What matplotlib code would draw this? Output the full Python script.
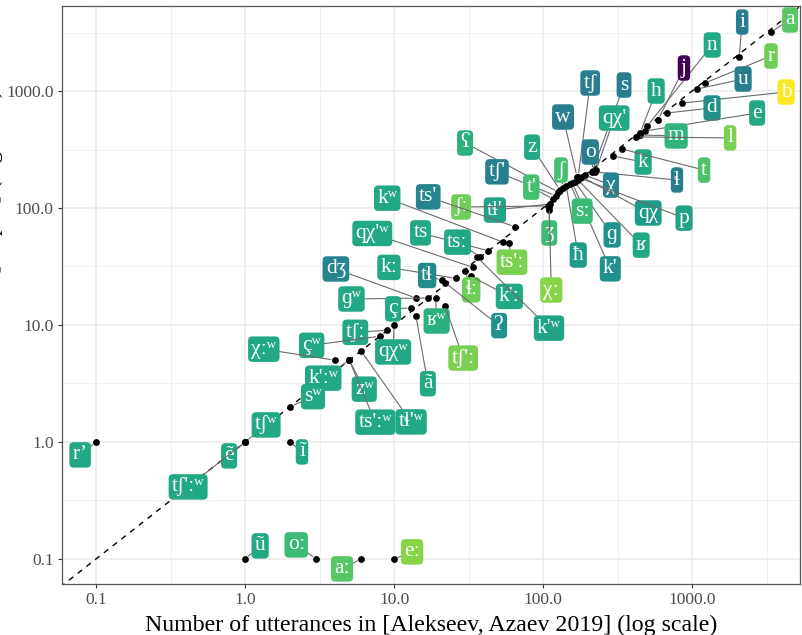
import matplotlib.pyplot as plt
from matplotlib.ticker import FixedLocator, FixedFormatter, NullFormatter

plt.rcParams['font.family'] = ['Liberation Serif', 'DejaVu Serif']

# data: phoneme, count in [Alekseev, Azaev 2019], count in corpus, fill value
phonemes = ["a", "i", "n", "r", "j", "u", "b", "h", "tʃ", "s",
            "qχ'", "w", "o", "d", "e", "m", "l", "k", "t", "ɬ",
            "χ", "qχ", "p", "ʁ", "ɡ", "k'", "ħ", "sː", "ʒ", "χː",
            "ʃ", "z", "ʕ", "tʃ'", "t'", "tɬ'", "ʃː", "kʷ", "ts'", "ts",
            "tsː", "ts'ː", "qχ'ʷ", "dʒ", "kː", "tɬ", "ɬː", "ɡʷ", "ç", "ʁʷ",
            "ʔ", "k'ː", "k'ʷ", "tʃ'ː", "qχʷ", "tʃː", "çʷ", "χːʷ", "k'ːʷ", "zʷ",
            "ts'ːʷ", "tɬ'ʷ", "ã", "sʷ", "tʃʷ", "ĩ", "ẽ", "tʃ'ːʷ", "r’", "ũ",
            "oː", "aː", "eː"]
alekseev = [3390, 2070, 500, 1220, 590, 1080, 857, 448, 172, 213,
            227, 169, 217, 679, 484, 448, 421, 295, 339, 223,
            191, 183, 177, 172, 164, 157, 143, 152, 110, 110,
            136, 130, 126, 122, 117, 111, 108, 54, 65, 43,
            38, 59, 34, 14, 26, 21, 30, 17, 13, 19,
            22, 33, 36, 22, 10, 9, 8, 4, 5, 5,
            5, 6, 14, 2, 1, 2, 1, 1, 0.1, 1,
            3, 6, 10]
corpus = [3200, 1950, 502, 1170, 565, 1040, 789, 437, 184, 203,
          211, 184, 207, 649, 455, 421, 405, 278, 319, 203,
          191, 184, 180, 173, 167, 164, 154, 160, 102, 96,
          148, 142, 137, 127, 119, 108, 104, 51, 69, 43,
          38, 50, 31, 17, 25, 24, 29, 17, 14, 17,
          23, 26, 38, 14.5, 10, 9, 8, 5, 5, 5,
          5, 6, 12, 2, 1, 1, 1, 1, 1, 0.1,
          0.1, 0.1, 0.1]
fill_values = [0.74, 0.42, 0.6, 0.78, 0.0, 0.42, 1.0, 0.6, 0.42, 0.42,
               0.6, 0.42, 0.42, 0.5, 0.6, 0.65, 0.8, 0.6, 0.72, 0.42,
               0.45, 0.55, 0.58, 0.6, 0.5, 0.5, 0.55, 0.68, 0.68, 0.82,
               0.7, 0.6, 0.64, 0.42, 0.7, 0.58, 0.78, 0.6, 0.45, 0.6,
               0.6, 0.8, 0.6, 0.45, 0.6, 0.48, 0.78, 0.6, 0.6, 0.64,
               0.5, 0.6, 0.58, 0.8, 0.6, 0.6, 0.6, 0.6, 0.6, 0.6,
               0.6, 0.6, 0.6, 0.6, 0.6, 0.6, 0.6, 0.6, 0.6, 0.6,
               0.68, 0.74, 0.82]

# label placement (pixels from the point), like ggrepel would put them
label_offsets = [(19, 12), (3, 35), (65, 81), (66, 27), (26, 52), (46, 10), (104, 11), (16, 42), (12, 94), (32, 87),
                 (18, 52), (-14, 60), (-3, 19), (45, 5), (112, 18), (36, -1), (94, -1), (30, -6), (82, -21), (82, -8),
                 (26, -10), (66, -36), (104, -40), (63, -65), (37, -53), (38, -86), (12, -69), (12, -27), (0, -26), (2, -80),
                 (-2, 18), (-28, 43), (-93, 49), (-59, 24), (-22, 12), (-55, -6), (-87, -1), (-116, 44), (-87, 30), (-68, 18),
                 (-23, 15), (3, -19), (-101, 34), (-80, 29), (-67, 11), (-15, 5), (6, -19), (-77, -1), (-18, -1), (1, -23),
                 (54, -43), (38, -20), (72, -71), (18, -52), (-1, -27), (-32, -2), (-68, -9), (-71, 11), (-26, -18), (15, -29),
                 (26, -62), (50, -71), (12, -68), (23, 10), (21, 17), (12, -10), (-16, -14), (-57, -45), (-16, -13), (15, 13),
                 (-20, 14), (-19, -10), (18, 7)]

fig = plt.figure(figsize=(8.03, 6.35), dpi=100)
ax = fig.add_axes([62 / 803, 51 / 635, 738 / 803, 578 / 635])
ax.set_xscale('log')
ax.set_yscale('log')
ax.set_xlim(0.059, 5300)
ax.set_ylim(0.061, 5330)

major = [0.1, 1, 10, 100, 1000]
major_labels = ["0.1", "1.0", "10.0", "100.0", "1000.0"]
minor = [0.316, 3.16, 31.6, 316, 3162]
for axis in (ax.xaxis, ax.yaxis):
    axis.set_major_locator(FixedLocator(major))
    axis.set_major_formatter(FixedFormatter(major_labels))
    axis.set_minor_locator(FixedLocator(minor))
    axis.set_minor_formatter(NullFormatter())

ax.grid(which='major', color='#ebebeb', lw=1.1)
ax.grid(which='minor', color='#f0f0f0', lw=0.7)
ax.set_axisbelow(True)
ax.tick_params(which='minor', length=0)
ax.tick_params(which='major', length=3, width=0.8, color='#333333',
               labelcolor='#4d4d4d', labelsize=12.5, pad=3)
for sp in ax.spines.values():
    sp.set_color('#555555')
    sp.set_linewidth(0.9)

ax.plot([0.01, 10000], [0.01, 10000], ls=(0, (4, 4)), color='black', lw=1.0, zorder=1.5)
ax.scatter(alekseev, corpus, s=24, c='black', zorder=2, linewidths=0)

cmap = plt.get_cmap('viridis')
for name, x, y, v, (dx, dy) in zip(phonemes, alekseev, corpus, fill_values, label_offsets):
    ax.annotate(name, (x, y), xytext=(dx, dy), textcoords='offset pixels',
                ha='center', va='center', color='white', fontsize=15.5, zorder=3,
                bbox=dict(boxstyle='round,pad=0.15,rounding_size=0.2', fc=cmap(v), ec='none'),
                arrowprops=dict(arrowstyle='-', color='#6b6b6b', lw=0.8, shrinkA=0, shrinkB=3),
                clip_on=True, annotation_clip=False)

ax.set_xlabel("Number of utterances in [Alekseev, Azaev 2019] (log scale)", fontsize=17.2, labelpad=5)
fig.text(3 / 803, 0.53, "Number of utterances in [corpus] (log scale)", rotation=90,
         ha='right', va='center', fontsize=17)

fig.savefig('out.png', dpi=100)
